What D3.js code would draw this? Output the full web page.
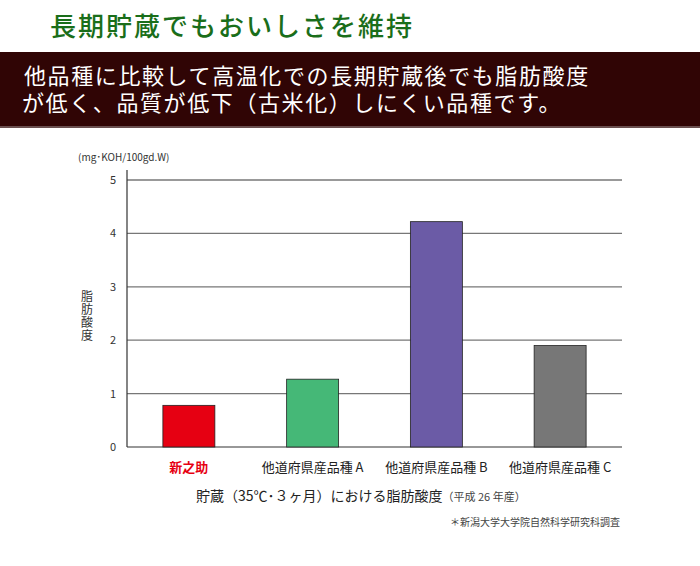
<!DOCTYPE html>
<html><head><meta charset="utf-8">
<script src="https://d3js.org/d3.v7.min.js"></script>
<style>body{margin:0;background:#fff}</style></head>
<body><script>
const categories=["新之助","他道府県産品種 A","他道府県産品種 B","他道府県産品種 C"];
const values=[0.78,1.27,4.22,1.9];
const colors=["#e60012","#45b877","#6b5ba6","#777777"];
const labelColors=["#e60012","#222","#222","#222"];
const yTicks=[0,1,2,3,4,5];
const W=700,H=566,F="'Noto Sans CJK JP',sans-serif";
const svg=d3.select("body").append("svg").attr("width",W).attr("height",H).style("font-family",F);
svg.append("text").attr("x",50).attr("y",36).attr("fill","#1a6e1a").attr("font-size",26).attr("letter-spacing",2).attr("font-weight",500).text("長期貯蔵でもおいしさを維持");
svg.append("rect").attr("x",0).attr("y",52).attr("width",W).attr("height",76).attr("fill","#300505");
svg.append("rect").attr("x",0).attr("y",126).attr("width",W).attr("height",2).attr("fill","#6a5050");
svg.append("text").attr("x",24).attr("y",84).attr("fill","#fff").attr("font-size",22).attr("letter-spacing",1.6).text("他品種に比較して高温化での長期貯蔵後でも脂肪酸度");
svg.append("text").attr("x",22).attr("y",111).attr("fill","#fff").attr("font-size",22).attr("letter-spacing",1.6).text("が低く、品質が低下（古米化）しにくい品種です。");
const x=d3.scaleBand().domain(categories).range([127,622]).paddingInner(0.58).paddingOuter(0.29);
const y=d3.scaleLinear().domain([0,5]).range([447,180]);
const g=svg.append("g");
g.selectAll("line.grid").data(yTicks).join("line").attr("x1",127).attr("x2",622).attr("y1",d=>y(d)).attr("y2",d=>y(d)).attr("stroke",d=>d==0?"#333":"#777").attr("stroke-width",d=>d==0?1.2:1.3);
g.append("line").attr("x1",127).attr("x2",127).attr("y1",170).attr("y2",447).attr("stroke","#333").attr("stroke-width",1.2);
g.selectAll("text.yt").data(yTicks).join("text").attr("x",116).attr("y",d=>y(d)+4).attr("text-anchor","end").attr("font-size",11).attr("fill","#333").text(d=>d);
g.selectAll("rect.bar").data(values).join("rect").attr("x",(d,i)=>x(categories[i])).attr("width",x.bandwidth()).attr("y",d=>y(d)).attr("height",d=>y(0)-y(d)).attr("fill",(d,i)=>colors[i]).attr("stroke","#222").attr("stroke-width",0.8);
g.selectAll("text.xl").data(categories).join("text").attr("x",d=>x(d)+x.bandwidth()/2).attr("y",472).attr("text-anchor","middle").attr("font-size",13).attr("fill",(d,i)=>labelColors[i]).attr("font-weight",(d,i)=>i==0?700:400).text(d=>d);
svg.append("text").attr("x",78).attr("y",161).attr("font-size",10).attr("fill","#333").text("(mg･KOH/100gd.W)");
["脂","肪","酸","度"].forEach((c,i)=>svg.append("text").attr("x",87).attr("y",301+i*13).attr("text-anchor","middle").attr("font-size",12).attr("fill","#333").text(c));
const t=svg.append("text").attr("x",196).attr("y",501).attr("font-size",14).attr("fill","#222");
t.append("tspan").text("貯蔵（35℃･３ヶ月）における脂肪酸度");
t.append("tspan").attr("font-size",11).attr("fill","#444").text("（平成 26 年産）");
svg.append("text").attr("x",620).attr("y",526).attr("text-anchor","end").attr("font-size",10).attr("fill","#444").text("＊新潟大学大学院自然科学研究科調査");
</script></body></html>
